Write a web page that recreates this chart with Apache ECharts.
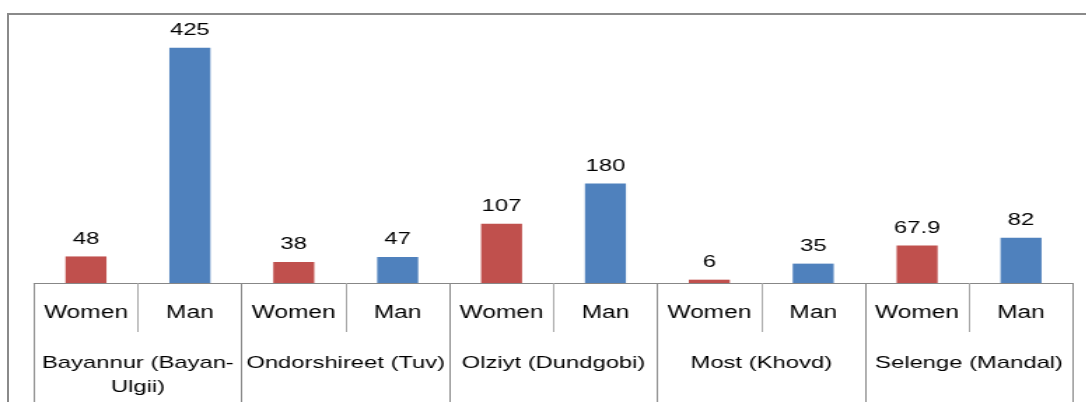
<!DOCTYPE html>
<html>
<head>
<meta charset="utf-8">
<script src="https://cdn.jsdelivr.net/npm/echarts@6/dist/echarts.min.js"></script>
<style>
    html, body { margin: 0; padding: 0; background: #fff; overflow: hidden; }
    #wrap { position: relative; width: 1086px; height: 402px; }
    /* outer frame of the original picture */
    #frame {
        position: absolute; left: 7px; top: 13px; right: 0; bottom: 0;
        border-top: 2px solid #8a8a8a; border-left: 2px solid #8a8a8a;
    }
    /* the source image is stretched horizontally, so draw narrow and scale */
    #main {
        position: absolute; left: 0; top: 0;
        width: 776px; height: 402px;
        transform: scaleX(1.4); transform-origin: 0 0;
    }
</style>
</head>
<body>
<div id="wrap">
    <div id="frame"></div>
    <div id="main"></div>
</div>
<script>
var categories = ['Women', 'Man', 'Women', 'Man', 'Women', 'Man', 'Women', 'Man', 'Women', 'Man'];
var groups = ['Bayannur (Bayan-\nUlgii)', 'Ondorshireet (Tuv)', 'Olziyt (Dundgobi)', 'Most (Khovd)', 'Selenge (Mandal)'];
var values = [48, 425, 38, 47, 107, 180, 6, 35, 67.9, 82];

var RED = '#C0504D';
var BLUE = '#4F81BD';
var FONT = 'Liberation Sans, Arial, sans-serif';

var chart = echarts.init(document.getElementById('main'));

var option = {
    animation: false,
    grid: {
        left: 24.3,
        right: 9.6,
        top: 34,
        bottom: 119
    },
    yAxis: {
        type: 'value',
        min: 0,
        max: 450,
        show: false
    },
    xAxis: [
        {
            // Women / Man row
            type: 'category',
            data: categories,
            position: 'bottom',
            axisLine: { show: true, lineStyle: { color: '#878787', width: 1 } },
            axisTick: { show: true, alignWithLabel: false, length: 49, interval: 0, lineStyle: { color: '#a8a8a8', width: 1 } },
            axisLabel: {
                interval: 0,
                margin: 21,
                fontSize: 17.5,
                fontFamily: FONT,
                color: '#000'
            }
        },
        {
            // region row
            type: 'category',
            data: groups,
            position: 'bottom',
            axisLine: { show: false },
            axisTick: { show: true, alignWithLabel: false, length: 119, interval: 0, lineStyle: { color: '#8a8a8a', width: 1 } },
            axisLabel: {
                interval: 0,
                margin: 68,
                lineHeight: 24,
                fontSize: 17,
                fontFamily: FONT,
                color: '#000'
            }
        }
    ],
    series: [
        {
            type: 'bar',
            xAxisIndex: 0,
            barWidth: 29.3,
            data: values,
            itemStyle: {
                color: function (p) {
                    return p.dataIndex % 2 ? BLUE : RED;
                }
            },
            label: {
                show: true,
                position: 'top',
                distance: 9,
                fontSize: 17,
                fontFamily: FONT,
                color: '#000'
            }
        }
    ]
};
chart.setOption(option);
</script>
</body>
</html>
